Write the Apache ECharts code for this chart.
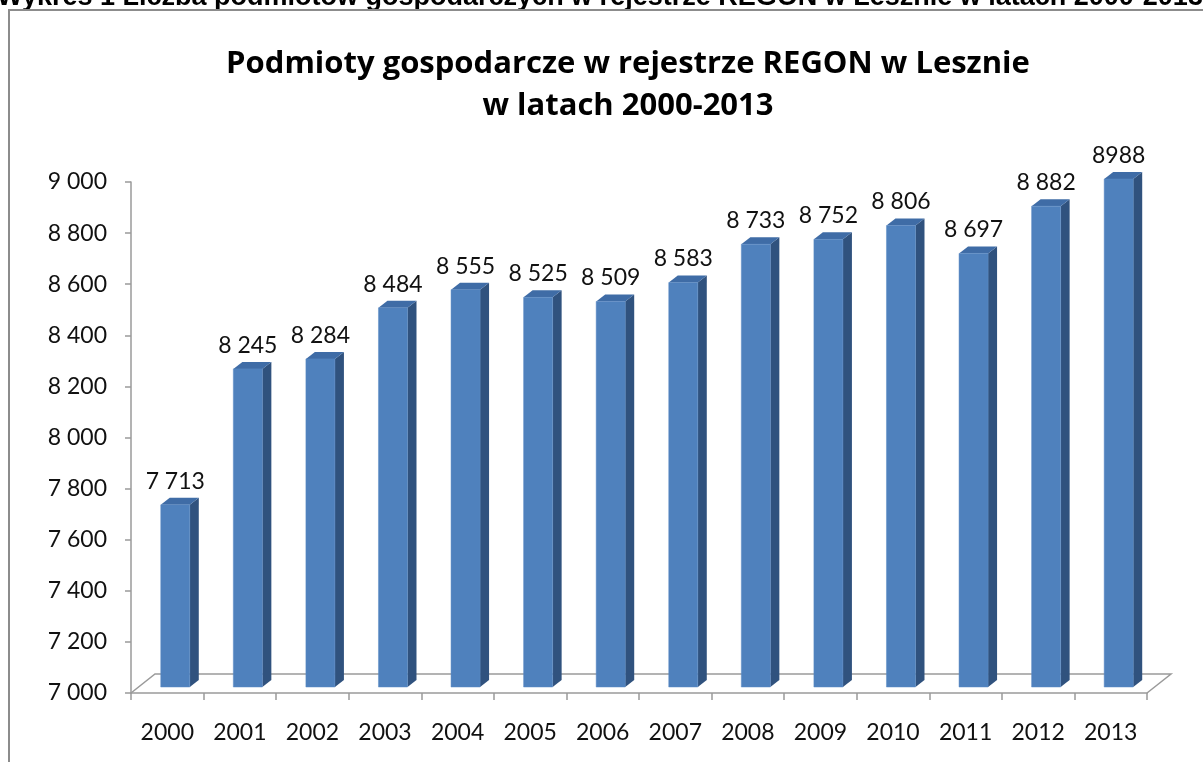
<!DOCTYPE html>
<html>
<head>
<meta charset="utf-8">
<title>Podmioty gospodarcze w rejestrze REGON w Lesznie</title>
<script src="https://cdn.jsdelivr.net/npm/echarts@6/dist/echarts.min.js"></script>
<style>
  html, body { margin: 0; padding: 0; background: #fff; }
  #chart { width: 1203px; height: 762px; }
</style>
</head>
<body>
<div id="chart"></div>
<script>
// dane z wykresu
const years = ['2000', '2001', '2002', '2003', '2004', '2005', '2006',
  '2007', '2008', '2009', '2010', '2011', '2012', '2013'];
const counts = [7713, 8245, 8284, 8484, 8555, 8525, 8509,
  8583, 8733, 8752, 8806, 8697, 8882, 8988];
const countLabels = ['7 713', '8 245', '8 284', '8 484', '8 555', '8 525', '8 509',
  '8 583', '8 733', '8 752', '8 806', '8 697', '8 882', '8988'];
const yMin = 7000;
const yMax = 9000;
const yStep = 200;

const captionText = 'Wykres 1 Liczba podmiotów gospodarczych w rejestrze REGON w Lesznie w latach 2000-2013';
const titleText = 'Podmioty gospodarcze w rejestrze REGON w Lesznie\nw latach 2000-2013';

const chartFont = 'Lato, "Open Sans", sans-serif';
const FRONT = '#4f81bd';
const SIDE = '#30527e';
const TOP = '#3f6ca6';
const AXIS_GRAY = '#9a9a9a';

// przesuniecia "3D" w pikselach
const barDepth = [9, -7];
const barLift = 6;
const floorDepth = [24, -19];

const chart = echarts.init(document.getElementById('chart'));

function renderBar(params, api) {
  const idx = api.value(0);
  const val = api.value(1);
  const top = api.coord([idx, val]);
  const base = api.coord([idx, yMin]);
  const band = api.size([1, 0])[0];
  const w = band * 0.4;
  const x0 = top[0] + band * 0.11 - w / 2;
  const yt = top[1] - barLift;
  const yb = base[1] - barLift;
  const [dx, dy] = barDepth;
  return {
    type: 'group',
    children: [
      {
        type: 'polygon',
        shape: { points: [[x0 + w, yt], [x0 + w + dx, yt + dy], [x0 + w + dx, yb + dy], [x0 + w, yb]] },
        style: { fill: SIDE }
      },
      {
        type: 'polygon',
        shape: { points: [[x0, yt], [x0 + w, yt], [x0 + w + dx, yt + dy], [x0 + dx, yt + dy]] },
        style: { fill: TOP }
      },
      {
        type: 'rect',
        shape: { x: x0, y: yt, width: w, height: yb - yt },
        style: { fill: FRONT, stroke: '#5a8ac4', lineWidth: 0.5 }
      },
      {
        type: 'text',
        style: {
          x: x0 + w / 2,
          y: yt + dy - 5,
          text: countLabels[idx],
          align: 'center',
          verticalAlign: 'bottom',
          font: '23px ' + chartFont,
          fill: '#111'
        }
      }
    ]
  };
}

function renderFloor(params) {
  const cs = params.coordSys;
  const [fx, fy] = floorDepth;
  const xl = cs.x;
  const xr = cs.x + cs.width;
  const yf = cs.y + cs.height;
  return {
    type: 'polyline',
    shape: { points: [[xl, yf], [xl + fx, yf + fy], [xr + fx, yf + fy], [xr, yf]] },
    style: { stroke: AXIS_GRAY, lineWidth: 1.5, fill: null }
  };
}

const option = {
  backgroundColor: '#ffffff',
  animation: false,
  title: {
    text: titleText,
    left: 623,
    textAlign: 'center',
    top: 38,
    textStyle: {
      fontFamily: '"Open Sans", Lato, sans-serif',
      fontWeight: 'bold',
      fontSize: 31,
      lineHeight: 42,
      color: '#000'
    }
  },
  graphic: [
    {
      type: 'text',
      z: -20,
      left: -3,
      top: -16,
      style: {
        text: captionText,
        font: 'bold 27px "Liberation Sans", Arial, sans-serif',
        fill: '#000'
      }
    },
    {
      type: 'rect',
      z: -10,
      shape: { x: 9, y: 10, width: 1400, height: 900 },
      style: { fill: '#fff', stroke: '#8c8c8c', lineWidth: 2 }
    }
  ],
  grid: {
    left: 131,
    right: 56,
    top: 182,
    bottom: 69
  },
  xAxis: {
    type: 'category',
    data: years,
    boundaryGap: true,
    axisLine: { lineStyle: { color: AXIS_GRAY, width: 1.5 } },
    axisTick: { show: true, interval: 0, length: 7, lineStyle: { color: AXIS_GRAY, width: 1.5 } },
    axisLabel: {
      interval: 0,
      margin: 28,
      fontFamily: chartFont,
      fontSize: 23,
      color: '#111'
    },
    splitLine: { show: false }
  },
  yAxis: {
    type: 'value',
    min: yMin,
    max: yMax,
    interval: yStep,
    axisLine: { show: true, lineStyle: { color: AXIS_GRAY, width: 1.5 } },
    axisTick: { show: true, length: 6, lineStyle: { color: AXIS_GRAY, width: 1.5 } },
    axisLabel: {
      margin: 24,
      fontFamily: chartFont,
      fontSize: 23,
      color: '#111',
      formatter: v => String(v).replace(/\B(?=(\d{3})+(?!\d))/g, ' ')
    },
    splitLine: { show: false }
  },
  series: [
    {
      type: 'custom',
      name: 'podloga',
      renderItem: renderFloor,
      data: [[0, yMin]],
      z: 1,
      silent: true
    },
    {
      type: 'custom',
      name: 'Podmioty gospodarcze',
      renderItem: renderBar,
      encode: { x: 0, y: 1 },
      data: counts.map((v, i) => [i, v]),
      z: 3
    }
  ]
};

chart.setOption(option);
window.addEventListener('resize', () => chart.resize());
</script>
</body>
</html>
